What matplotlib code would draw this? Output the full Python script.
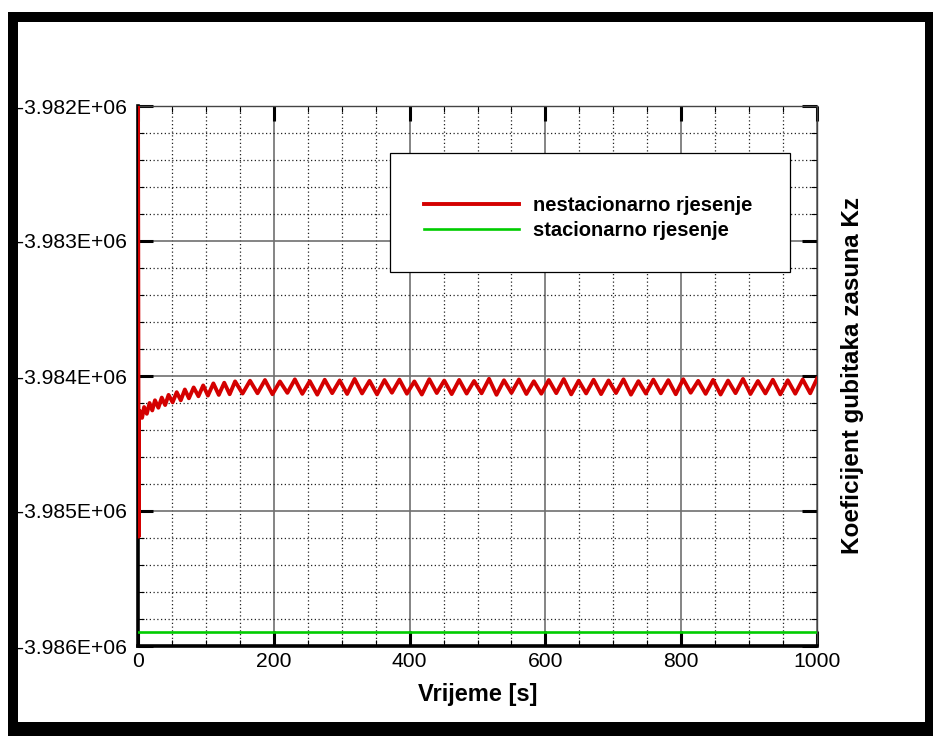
import matplotlib
matplotlib.use('Agg')

import matplotlib.pyplot as plt
from matplotlib.patches import Rectangle
from matplotlib.ticker import MultipleLocator, FuncFormatter

plt.rcParams['font.family'] = ['Liberation Sans', 'DejaVu Sans']

# time samples [s] of the unsteady solution (turning points)
t_nestac = [0, 1, 1.5, 3, 6, 9, 13, 17, 21, 25, 30, 35, 40, 45, 51, 57, 63, 69, 75,
            82, 89, 96, 103, 111, 119, 127, 135, 143,
            154, 165, 176, 187, 198, 209, 220, 231, 242, 253, 264, 275, 286, 297,
            308, 319, 330, 341, 352, 363, 374, 385, 396, 407, 418, 429, 440, 451,
            462, 473, 484, 495, 506, 517, 528, 539, 550, 561, 572, 583, 594, 605,
            616, 627, 638, 649, 660, 671, 682, 693, 704, 715, 726, 737, 748, 759,
            770, 781, 792, 803, 814, 825, 836, 847, 858, 869, 880, 891, 902, 913,
            924, 935, 946, 957, 968, 979, 990, 1000]

kz_nestac = [-3981800, -3985190, -3984330, -3984260, -3984310, -3984230, -3984280,
             -3984200, -3984255, -3984180, -3984235, -3984160, -3984215, -3984140,
             -3984195, -3984120, -3984180, -3984100, -3984165, -3984085, -3984150,
             -3984070, -3984145, -3984055, -3984140, -3984050, -3984135, -3984040,
             -3984130, -3984035, -3984128, -3984030, -3984135, -3984040, -3984125,
             -3984025, -3984132, -3984038, -3984138, -3984028, -3984127, -3984033,
             -3984133, -3984022, -3984129, -3984036, -3984136, -3984030, -3984124,
             -3984027, -3984131, -3984040, -3984137, -3984024, -3984126, -3984034,
             -3984134, -3984029, -3984130, -3984037, -3984128, -3984021, -3984139,
             -3984032, -3984125, -3984026, -3984133, -3984039, -3984131, -3984030,
             -3984127, -3984023, -3984136, -3984035, -3984129, -3984028, -3984134,
             -3984033, -3984126, -3984025, -3984138, -3984038, -3984130, -3984027,
             -3984128, -3984031, -3984135, -3984024, -3984124, -3984036, -3984132,
             -3984029, -3984137, -3984034, -3984127, -3984022, -3984133, -3984037,
             -3984129, -3984028, -3984136, -3984032, -3984131, -3984026, -3984128,
             -3984020]

t_stac = [0, 1000]
kz_stac = [-3985895, -3985895]

fig = plt.figure(figsize=(9.33, 7.36), dpi=100)

# black frame with white inner page
W, H = 933, 736
fig.patches.append(Rectangle((8 / W, 0), 1 - 8 / W, 1 - 12 / H, transform=fig.transFigure,
                             facecolor='black', edgecolor='none', zorder=-2))
fig.patches.append(Rectangle((18 / W, 14 / H), 907 / W, 700 / H, transform=fig.transFigure,
                             facecolor='white', edgecolor='none', zorder=-1))

ax = fig.add_axes([138 / W, 1 - 646 / H, 679 / W, 540 / H])
ax.set_facecolor('none')

ax.plot(t_stac, kz_stac, color='#00cc00', lw=1.9, label='stacionarno rjesenje', zorder=3)
ax.plot(t_nestac, kz_nestac, color='#d40000', lw=2.8, label='nestacionarno rjesenje', zorder=4)

ax.set_xlim(0, 1000)
ax.set_ylim(-3.986e6, -3.982e6)
ax.xaxis.set_major_locator(MultipleLocator(200))
ax.xaxis.set_minor_locator(MultipleLocator(50))
ax.yaxis.set_major_locator(MultipleLocator(1000))
ax.yaxis.set_minor_locator(MultipleLocator(200))
ax.yaxis.set_major_formatter(FuncFormatter(lambda v, p: f'{v:.3E}'))

ax.grid(which='major', color='#707070', lw=1.2, ls='-')
ax.grid(which='minor', color='#222222', lw=0.9, ls=(0, (1, 2)))
ax.set_axisbelow(True)

ax.tick_params(which='major', direction='in', length=11, width=2.2, color='black',
               top=True, right=True, labelsize=15.2)
ax.tick_params(which='minor', direction='in', length=4, width=0.8, color='black',
               top=True, right=True)
ax.tick_params(axis='y', which='major', pad=8)
ax.tick_params(axis='x', which='major', pad=4)

for side in ['left', 'bottom']:
    ax.spines[side].set_linewidth(2.6)
    ax.spines[side].set_color('black')
for side in ['top', 'right']:
    ax.spines[side].set_linewidth(1.0)
    ax.spines[side].set_color('#444444')

fig.text(478 / W, 1 - 695 / H, 'Vrijeme [s]', ha='center', va='center',
         fontsize=17, fontweight='bold')
fig.text(853 / W, 1 - 376 / H, 'Koeficijent gubitaka zasuna Kz', ha='center', va='center',
         rotation=90, fontsize=17.5, fontweight='bold')

# legend box
fig.patches.append(Rectangle((390 / W, 1 - 272 / H), 400 / W, 119 / H, transform=fig.transFigure,
                             facecolor='white', edgecolor='black', lw=0.9, zorder=5))
h, l = ax.get_legend_handles_labels()
leg = fig.legend(h[::-1], l[::-1], loc='center left', bbox_to_anchor=(406 / W, 1 - 218 / H),
                 frameon=False, prop={'size': 14.5, 'weight': 'bold'},
                 handlelength=4.7, handletextpad=0.7, labelspacing=0.3)
leg.set_zorder(6)

plt.savefig('out.png', dpi=100)
